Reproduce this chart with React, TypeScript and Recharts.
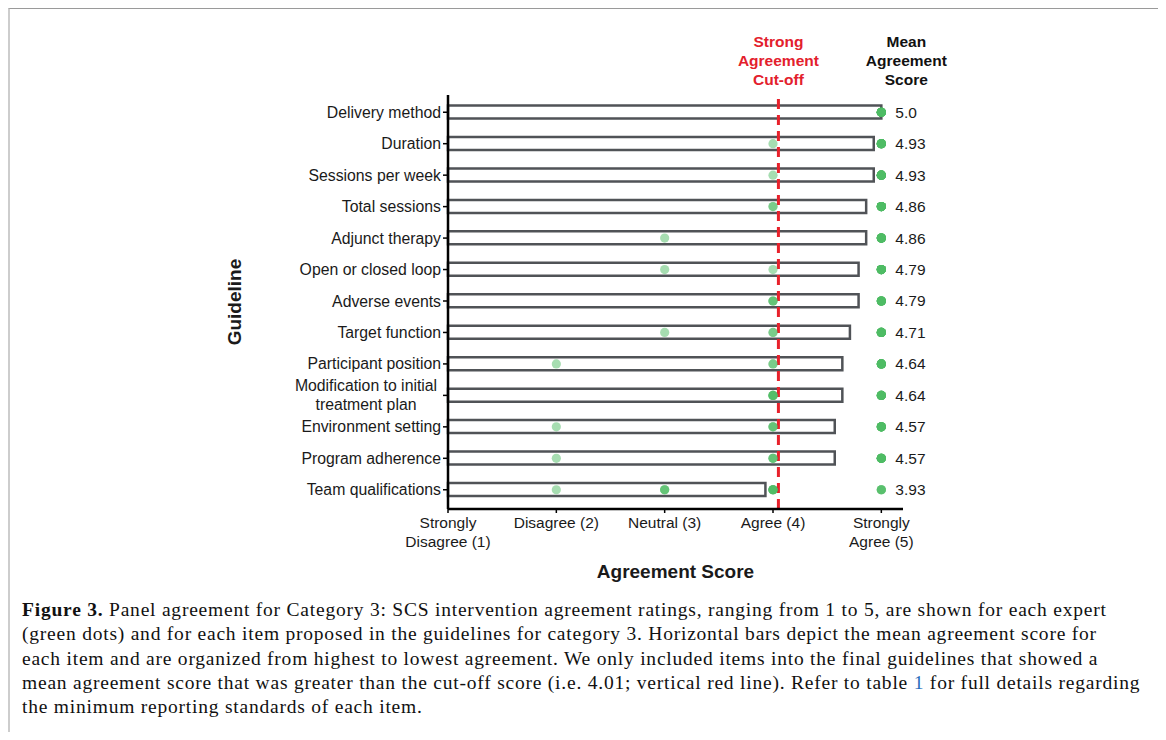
import React from 'react';
import { ComposedChart, Bar, Scatter, XAxis, YAxis, ReferenceLine, Label } from 'recharts';

// items, highest to lowest mean agreement
const guidelines = [
  'Delivery method',
  'Duration',
  'Sessions per week',
  'Total sessions',
  'Adjunct therapy',
  'Open or closed loop',
  'Adverse events',
  'Target function',
  'Participant position',
  'Modification to initial\ntreatment plan',
  'Environment setting',
  'Program adherence',
  'Team qualifications',
];

const meanScores = [5.0, 4.93, 4.93, 4.86, 4.86, 4.79, 4.79, 4.71, 4.64, 4.64, 4.57, 4.57, 3.93];
const meanLabels = ['5.0', '4.93', '4.93', '4.86', '4.86', '4.79', '4.79', '4.71', '4.64', '4.64', '4.57', '4.57', '3.93'];

// number of experts giving each rating 1..5
const ratingCounts = [
  [0, 0, 0, 0, 14],
  [0, 0, 0, 1, 13],
  [0, 0, 0, 1, 13],
  [0, 0, 0, 2, 12],
  [0, 0, 1, 0, 13],
  [0, 0, 1, 1, 12],
  [0, 0, 0, 3, 11],
  [0, 0, 1, 2, 11],
  [0, 1, 0, 2, 11],
  [0, 0, 0, 5, 9],
  [0, 1, 0, 3, 10],
  [0, 1, 0, 3, 10],
  [0, 1, 3, 6, 4],
];

const scoreTicks = [1, 2, 3, 4, 5];
const scoreTickLabels = ['Strongly\nDisagree (1)', 'Disagree (2)', 'Neutral (3)', 'Agree (4)', 'Strongly\nAgree (5)'];
const cutoffScore = 4.05;

const rows = guidelines.map((name, i) => ({ name, mean: meanScores[i] }));
const expertDots = guidelines.flatMap((name, i) =>
  ratingCounts[i].flatMap((count, s) => Array.from({ length: count }, () => ({ name, score: s + 1 })))
);
const meanMarks = guidelines.map((name, i) => ({ name, score: 5, label: meanLabels[i] }));

const SANS = '"Liberation Sans", Arial, Helvetica, sans-serif';
const TEXT = '#1a1a1a';
const GREEN = '#4dbb63';

const GuidelineTick = ({ x, y, payload }: any) => {
  const lines = String(payload.value).split('\n');
  if (lines.length === 1) {
    return (
      <text x={x} y={y} dy="0.35em" textAnchor="end" fill={TEXT} fontSize={15.8} fontFamily={SANS}>
        {payload.value}
      </text>
    );
  }
  const cx = x - 75;
  return (
    <text x={cx} y={y} textAnchor="middle" fill={TEXT} fontSize={15.8} fontFamily={SANS}>
      {lines.map((l, k) => (
        <tspan key={k} x={cx} y={y + (k - (lines.length - 1) / 2) * 19} dy="0.35em">
          {l}
        </tspan>
      ))}
    </text>
  );
};

const ScoreTick = ({ x, y, payload, index }: any) => {
  const lines = scoreTickLabels[index ?? scoreTicks.indexOf(payload.value)].split('\n');
  return (
    <text x={x} y={y} textAnchor="middle" fill={TEXT} fontSize={15.5} fontFamily={SANS}>
      {lines.map((l, k) => (
        <tspan key={k} x={x} y={y + 13 + k * 19}>
          {l}
        </tspan>
      ))}
    </text>
  );
};

const headerLines = (cx: number, top: number, words: string[], color: string) => (
  <text x={cx} y={top} textAnchor="middle" fill={color} fontWeight="bold" fontSize={15.5} fontFamily={SANS}>
    {words.map((t, k) => (
      <tspan key={k} x={cx} y={top - 48 + k * 19}>
        {t}
      </tspan>
    ))}
  </text>
);

const cutoffLabel = ({ viewBox }: any) => headerLines(viewBox.x, viewBox.y, ['Strong', 'Agreement', 'Cut-off'], '#e3202c');
const meanHeaderLabel = ({ viewBox }: any) => headerLines(viewBox.x + 25, viewBox.y, ['Mean', 'Agreement', 'Score'], '#111');

const dotShape = (p: any) => <circle cx={p.cx} cy={p.cy} r={4.6} fill={GREEN} fillOpacity={0.5} />;
const meanTextShape = (p: any) => (
  <text x={p.cx + 14} y={p.cy} dy="0.35em" fill={TEXT} fontSize={15.5} fontFamily={SANS}>
    {p.payload?.label ?? p.label}
  </text>
);

export default function App() {
  return (
    <div
      style={{
        position: 'relative',
        width: 1157,
        height: 724,
        boxSizing: 'border-box',
        borderTop: '1px solid #9a9a9a',
        borderLeft: '2px solid #cdcdcd',
        borderRight: '2px solid #cdcdcd',
        background: '#fff',
      }}
    >
      <div style={{ position: 'absolute', left: 0, top: 0 }}>
        <ComposedChart
          width={1000}
          height={574}
          data={rows}
          layout="vertical"
          margin={{ top: 86, right: 107, bottom: 5, left: 0 }}
        >
          <XAxis
            type="number"
            dataKey="score"
            domain={[1, 5.2]}
            ticks={scoreTicks}
            tick={<ScoreTick />}
            tickSize={4}
            tickMargin={2}
            height={69}
            axisLine={{ stroke: '#000', strokeWidth: 2.5 }}
            tickLine={{ stroke: '#000', strokeWidth: 1.5 }}
          >
            <Label
              value="Agreement Score"
              position="insideBottom"
              offset={0}
              style={{ fontFamily: SANS, fontSize: 19, fontWeight: 'bold', fill: TEXT }}
            />
          </XAxis>
          <YAxis
            type="category"
            dataKey="name"
            allowDuplicatedCategory={false}
            width={438}
            padding={{ top: 1.5, bottom: 3.5 }}
            tick={<GuidelineTick />}
            tickSize={5}
            tickMargin={2}
            interval={0}
            axisLine={{ stroke: '#000', strokeWidth: 2.5 }}
            tickLine={{ stroke: '#000', strokeWidth: 1.5 }}
          >
            <Label
              value="Guideline"
              angle={-90}
              position="insideLeft"
              offset={224.5}
              style={{ fontFamily: SANS, fontSize: 19, fontWeight: 'bold', fill: TEXT, textAnchor: 'middle' }}
            />
          </YAxis>
          <Bar dataKey="mean" barSize={13} fill="#fff" stroke="#505357" strokeWidth={2.5} isAnimationActive={false} />
          <ReferenceLine x={cutoffScore} stroke="#e8212b" strokeWidth={3} strokeDasharray="10 6" label={cutoffLabel} />
          <ReferenceLine x={5} stroke="none" label={meanHeaderLabel} />
          <Scatter data={expertDots} shape={dotShape} isAnimationActive={false} />
          <Scatter data={meanMarks} shape={meanTextShape} isAnimationActive={false} />
        </ComposedChart>
      </div>
      <div
        style={{
          position: 'absolute',
          left: 12,
          top: 589,
          width: 1140,
          fontFamily: '"Liberation Serif", "Times New Roman", serif',
          fontSize: 19.5,
          letterSpacing: 0.78,
          lineHeight: '24.25px',
          color: '#111',
          whiteSpace: 'nowrap',
        }}
      >
        <b>Figure 3.</b> Panel agreement for Category 3: SCS intervention agreement ratings, ranging from 1 to 5, are shown for each expert
        <br />
        (green dots) and for each item proposed in the guidelines for category 3. Horizontal bars depict the mean agreement score for
        <br />
        each item and are organized from highest to lowest agreement. We only included items into the final guidelines that showed a
        <br />
        mean agreement score that was greater than the cut-off score (i.e. 4.01; vertical red line). Refer to table{' '}
        <span style={{ color: '#2a6ebb' }}>1</span> for full details regarding
        <br />
        the minimum reporting standards of each item.
      </div>
    </div>
  );
}
